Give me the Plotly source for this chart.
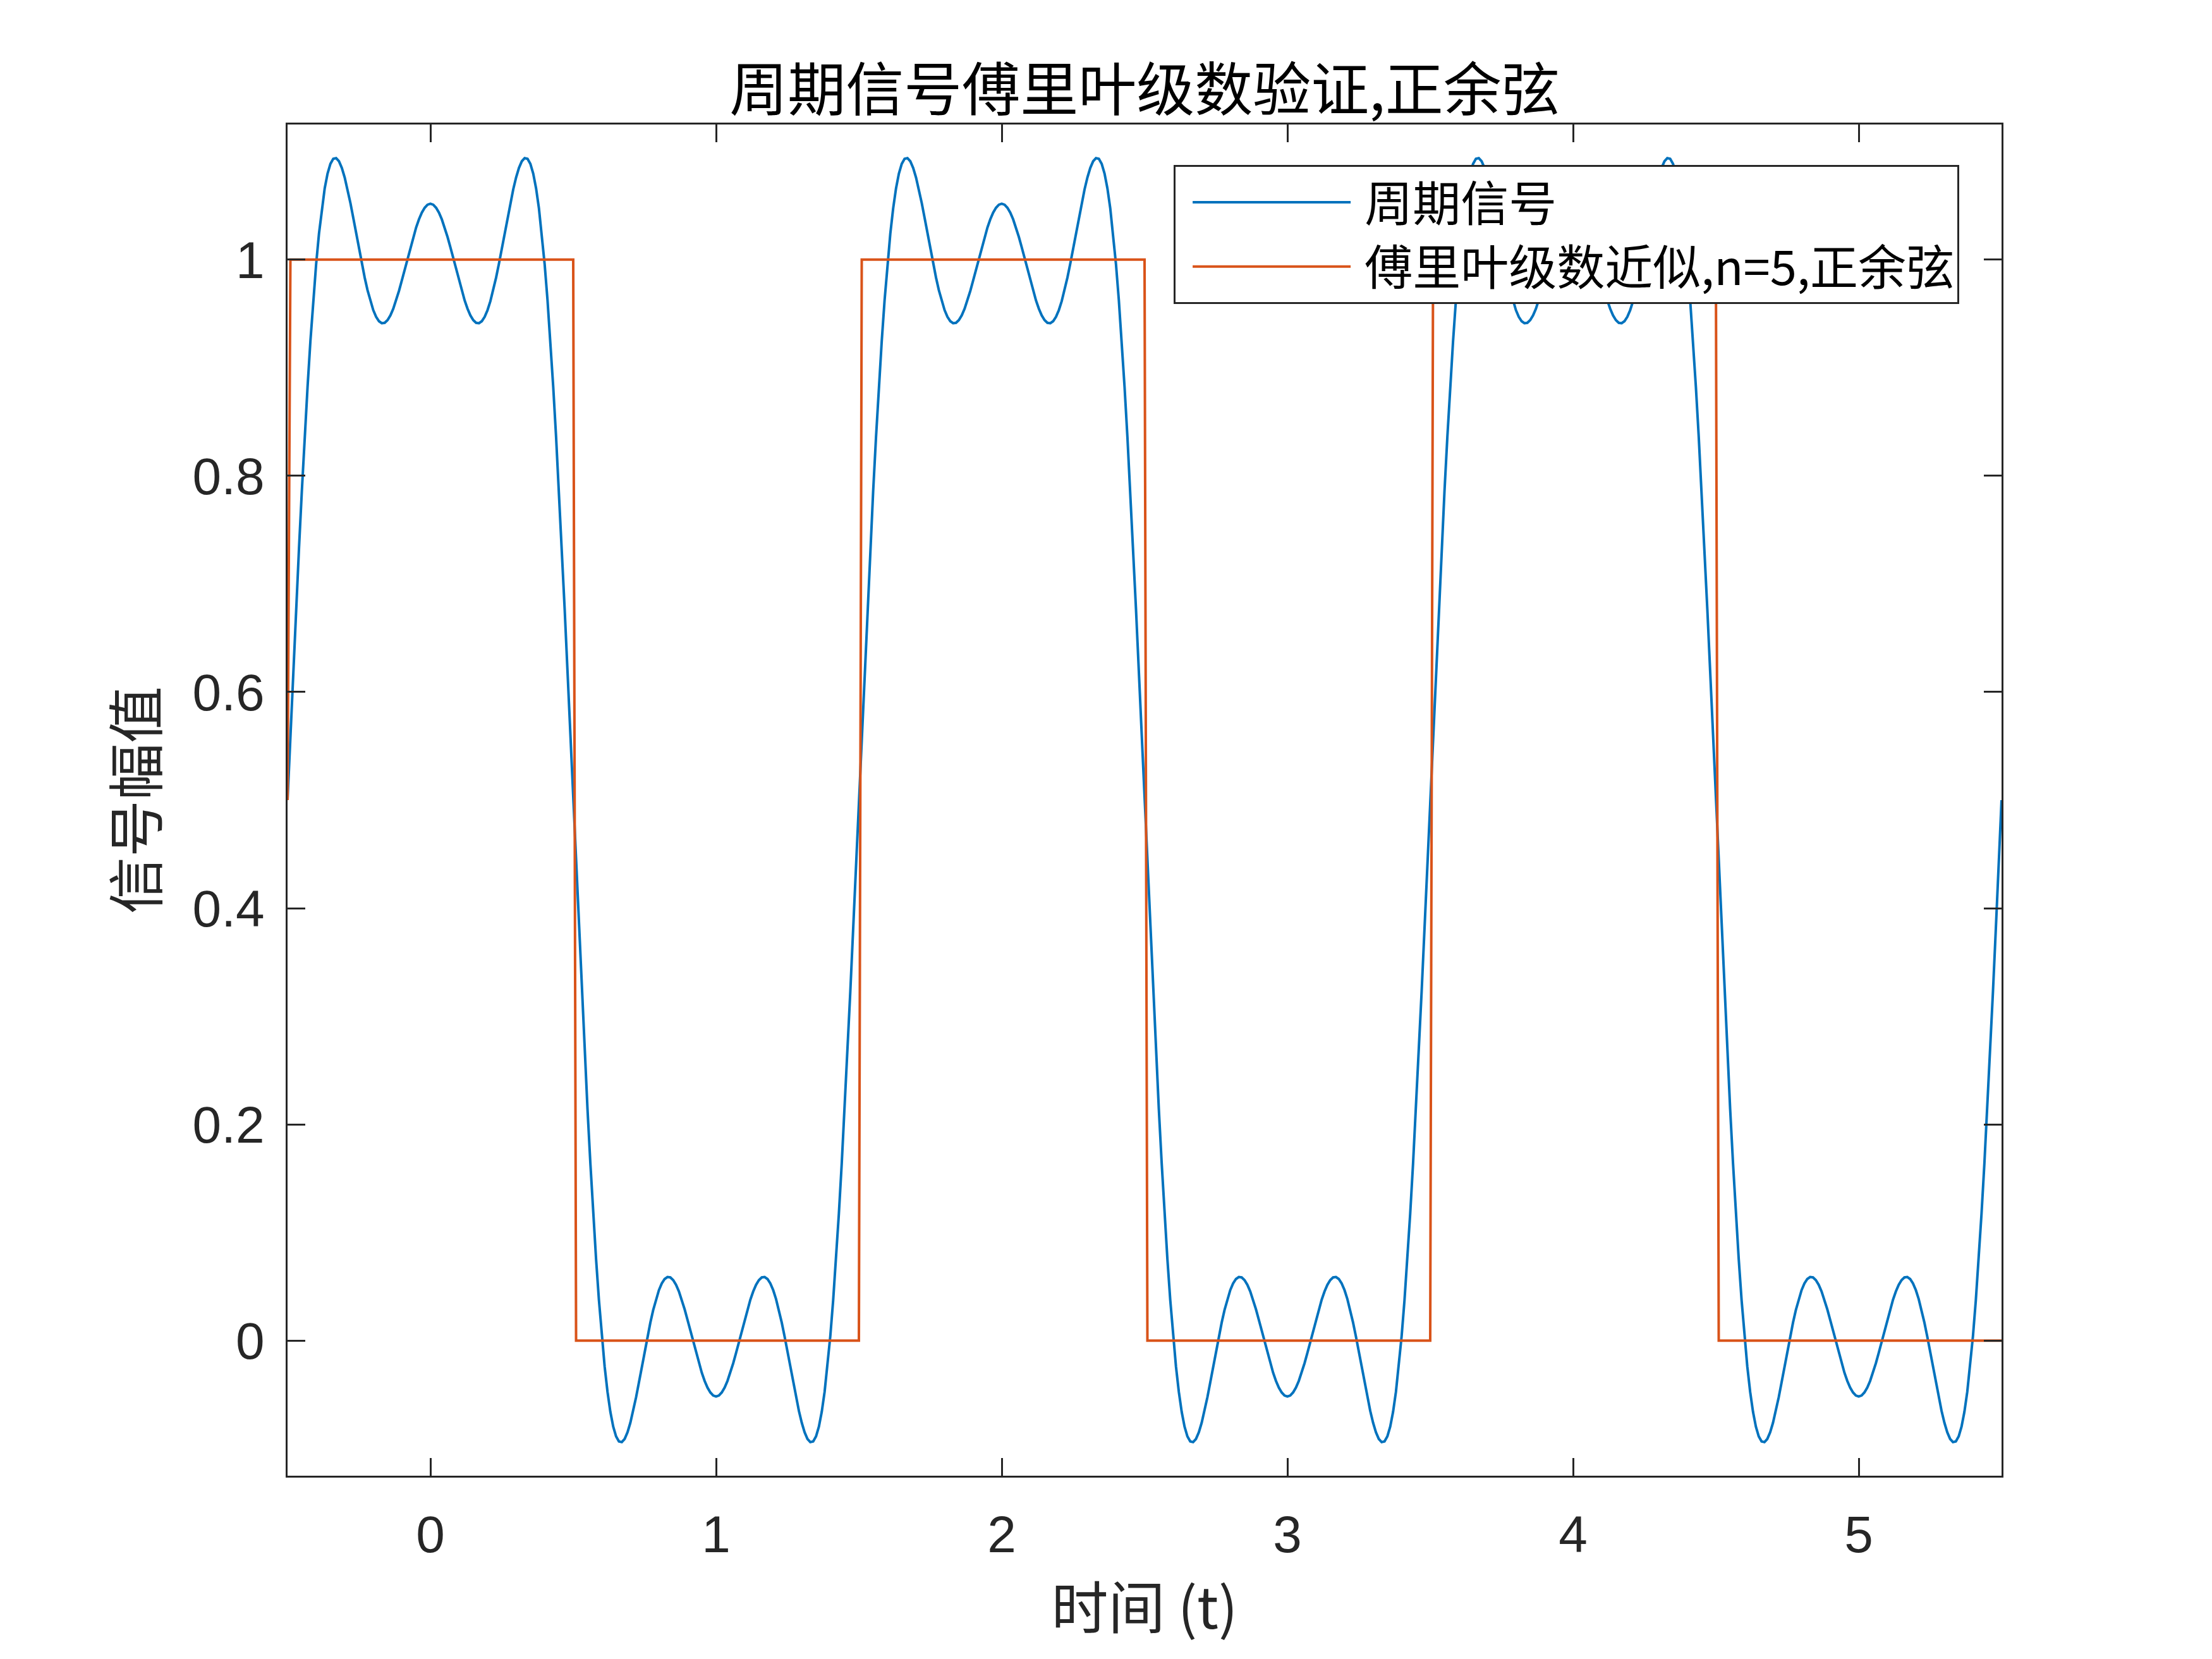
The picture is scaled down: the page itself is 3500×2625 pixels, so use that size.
import numpy as np
import plotly.graph_objects as go

# ---- data ----
# Fourier approximation (blue): DC term + cosine harmonics 1, 3, 5 of a period-2 square wave
harmonic_orders = [0, 1, 3, 5]
harmonic_amps = [0.5, 0.6366, -0.2122, 0.1273]
period = 2.0
t_start, t_end, t_step = -0.5, 5.5, 0.01

# Square wave (orange): corner points of the stepped line
square_t = [-0.5, -0.49, 0.50, 0.51, 1.50, 1.51, 2.50, 2.51, 3.50, 3.51, 4.50, 4.51, 5.50]
square_v = [0.5, 1.0, 1.0, 0.0, 0.0, 1.0, 1.0, 0.0, 0.0, 1.0, 1.0, 0.0, 0.0]

x_ticks = [0, 1, 2, 3, 4, 5]
y_ticks = [0, 0.2, 0.4, 0.6, 0.8, 1]

series_names = ["周期信号", "傅里叶级数近似,n=5,正余弦"]
title_text = "周期信号傅里叶级数验证,正余弦"
x_label = "时间 (t)"
y_label = "信号幅值"

# ---- build ----
t = np.round(np.arange(t_start, t_end + t_step / 2, t_step), 6)
approx = np.zeros_like(t)
for k, a in zip(harmonic_orders, harmonic_amps):
    approx = approx + a * np.cos(2 * np.pi * k * t / period)

BLUE = "#0072BD"
ORANGE = "#D95319"
AX = "#262626"
LATIN = "Liberation Sans, Arial, Noto Sans CJK SC"
CJK = "Noto Sans CJK SC, Liberation Sans"

W, H = 3492, 2617  # page body adds an 8px offset

fig = go.Figure()
fig.add_trace(go.Scatter(x=t, y=approx, mode="lines", name="\u00a0" + series_names[0],
                         line=dict(color=BLUE, width=4)))
fig.add_trace(go.Scatter(x=square_t, y=square_v, mode="lines", name="\u00a0" + series_names[1],
                         line=dict(color=ORANGE, width=4)))

axis_common = dict(showline=True, linecolor=AX, linewidth=3, mirror="ticks",
                   ticks="inside", ticklen=28, tickwidth=3, tickcolor=AX,
                   showgrid=False, zeroline=False,
                   tickfont=dict(family=LATIN, size=82, color=AX))

fig.update_layout(
    width=W, height=H,
    margin=dict(l=447, r=333, t=189, b=290),
    paper_bgcolor="white", plot_bgcolor="white",
    title=dict(text=title_text, x=0.5, xref="paper", y=1 - 135 / H, yref="container",
               xanchor="center", yanchor="middle",
               font=dict(family=CJK, size=92, color="black")),
    xaxis=dict(range=[-0.5, 5.5], tickvals=x_ticks, ticklabelstandoff=20,
               title=dict(text=x_label, standoff=42, font=dict(family=CJK, size=90, color=AX)),
               **axis_common),
    yaxis=dict(range=[-0.125, 1.125], tickvals=y_ticks, ticklabelstandoff=17,
               title=dict(text=y_label, standoff=26, font=dict(family=CJK, size=90, color=AX)),
               **axis_common),
    legend=dict(x=0.517, y=0.970, xanchor="left", yanchor="top",
                bgcolor="white", bordercolor=AX, borderwidth=3,
                font=dict(family=CJK, size=76, color="black"),
                itemwidth=250, tracegroupgap=0, indentation=22),
    showlegend=True,
)

fig.write_html("out.html")
